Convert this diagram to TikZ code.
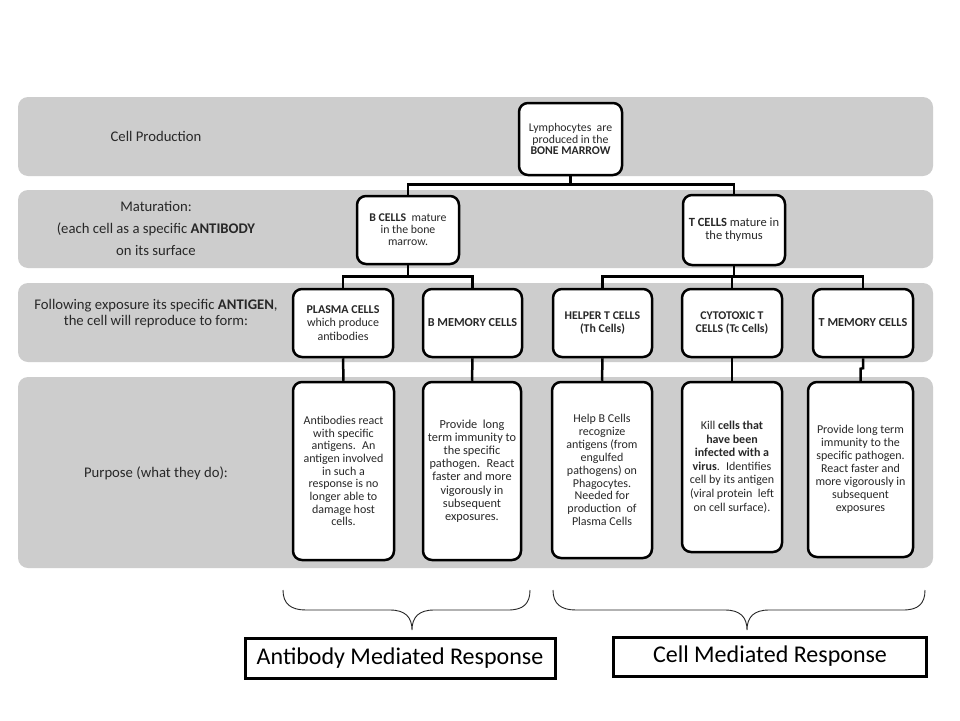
\documentclass[tikz,border=0pt]{standalone}
\usepackage{fontspec}
\setmainfont{Carlito}
\usetikzlibrary{calc}
\definecolor{bandgray}{RGB}{205,205,205}
\definecolor{labelgray}{RGB}{40,40,40}
\begin{document}
\begin{tikzpicture}[x=1pt,y=-1pt,
  band/.style={fill=bandgray, rounded corners=10pt},
  cellbox/.style={draw, line width=2.5pt, rounded corners=9pt, fill=white, align=center, inner sep=0pt, text=labelgray},
  conn/.style={line width=2.5pt},
  lbl/.style={align=center, text=labelgray, inner sep=0pt},
  resp/.style={draw, line width=3pt, fill=white, inner sep=0pt, font=\fontsize{24}{28}\selectfont, text=black},
  bracepath/.style={line width=0.9pt, draw=black!85}
]
\useasboundingbox (0,0) rectangle (960,720);
\fill[white] (0,0) rectangle (960,720);
% bands
\fill[band] (18,97) rectangle (933,176);
\fill[band] (18,190) rectangle (933,268);
\fill[band] (18,283) rectangle (933,362);
\fill[band] (18,377) rectangle (933,568);
% left labels
\node[lbl, font=\fontsize{14.7}{17}\selectfont] (l1) at (156,136) {Cell Production};
\node[lbl, font=\fontsize{14.7}{21.7}\selectfont] (l2) at (156,228.5) {Maturation:\\(each cell as a specific \textbf{ANTIBODY}\\on its surface};
\node[lbl, font=\fontsize{14.7}{16.7}\selectfont] (l3) at (156,313.5) {Following exposure its specific \textbf{ANTIGEN},\\the cell will reproduce to form:};
\node[lbl, font=\fontsize{14.7}{17}\selectfont] (l4) at (156,473) {Purpose (what they do):};
% level 1
\node[cellbox, minimum width=103pt, minimum height=72pt, font=\fontsize{11.8}{11.8}\selectfont] (top) at (570.5,139) {Lymphocytes \ are\\produced in the\\\textbf{BONE MARROW}};
% level 2
\node[cellbox, minimum width=102pt, minimum height=68pt, font=\fontsize{11.8}{11.9}\selectfont] (bcell) at (408,230) {\textbf{B CELLS} \ mature\\in the bone\\marrow.};
\node[cellbox, minimum width=102pt, minimum height=70pt, font=\fontsize{12.5}{13.3}\selectfont] (tcell) at (734,230) {\textbf{T CELLS} mature in\\the thymus};
% level 3
\node[cellbox, minimum width=100pt, minimum height=68pt, font=\fontsize{12}{13.7}\selectfont] (plasma) at (343,323) {\textbf{PLASMA CELLS}\\which produce\\antibodies};
\node[cellbox, minimum width=99pt, minimum height=68pt, font=\fontsize{12.2}{13.7}\selectfont] (bmem) at (472.5,323) {\textbf{B MEMORY CELLS}};
\node[cellbox, minimum width=99pt, minimum height=68pt, font=\fontsize{11.8}{13.3}\selectfont] (helper) at (602.5,323) {\textbf{HELPER T CELLS}\\\textbf{(Th Cells)}};
\node[cellbox, minimum width=100pt, minimum height=68pt, font=\fontsize{11.8}{13.3}\selectfont] (cyto) at (732,323) {\textbf{CYTOTOXIC T}\\\textbf{CELLS (Tc Cells)}};
\node[cellbox, minimum width=100pt, minimum height=68pt, font=\fontsize{12.2}{13.3}\selectfont] (tmem) at (863,323) {\textbf{T MEMORY CELLS}};
% level 4
\node[cellbox, minimum width=101pt, minimum height=178pt, font=\fontsize{12}{12.7}\selectfont] (apur) at (343.5,471) {Antibodies react\\with specific\\antigens. \ An\\antigen involved\\in such a\\response is no\\longer able to\\damage host\\cells.};
\node[cellbox, minimum width=98pt, minimum height=178pt, font=\fontsize{12.3}{13.2}\selectfont] (bmpur) at (472,471) {Provide \ long\\term immunity to\\the specific\\pathogen. \ React\\faster and more\\vigorously in\\subsequent\\exposures.};
\node[cellbox, minimum width=100pt, minimum height=176pt, font=\fontsize{12}{12.9}\selectfont] (hpur) at (602,470) {Help B Cells\\recognize\\antigens (from\\engulfed\\pathogens) on\\Phagocytes.\\Needed for\\production \ of\\Plasma Cells};
\node[cellbox, minimum width=100pt, minimum height=170pt, font=\fontsize{12}{13.6}\selectfont] (kpur) at (732,467) {Kill \textbf{cells that}\\\textbf{have been}\\\textbf{infected with a}\\\textbf{virus}. \ Identifies\\cell by its antigen\\(viral protein \ left\\on cell surface).};
\node[cellbox, minimum width=105pt, minimum height=175pt, font=\fontsize{12}{13}\selectfont] (tpur) at (860.5,469.5) {Provide long term\\immunity to the\\specific pathogen.\\React faster and\\more vigorously in\\subsequent\\exposures};
% connectors
\draw[conn] (top.south) -- ++(0,8) -| (bcell.north);
\draw[conn] (top.south) -- ++(0,8) -| (tcell.north);
\draw[conn] (bcell.south) -- ++(0,11) -| (plasma.north);
\draw[conn] (bcell.south) -- ++(0,11) -| (bmem.north);
\draw[conn] (tcell.south) -- ++(0,10) -| (helper.north);
\draw[conn] (tcell.south) -- ++(0,10) -| (cyto.north);
\draw[conn] (tcell.south) -- ++(0,10) -| (tmem.north);
\draw[conn] (plasma.south) -- (apur.north);
\draw[conn] (bmem.south) -- (bmpur.north);
\draw[conn] (helper.south) -- (hpur.north);
\draw[conn] (cyto.south) -- (kpur.north);
\draw[conn] (tmem.south) -- ++(0,10) -- ($(tpur.north)+(0,-12)$) -- (tpur.north);
% response boxes
\node[resp, minimum width=310pt, minimum height=40pt] (abr) at (400,658) {Antibody Mediated Response};
\node[resp, minimum width=313pt, minimum height=39pt] (cmr) at (770,656.5) {Cell Mediated Response};
% braces
\coordinate (lb1) at (283,590);
\coordinate (lbt) at (412,630);
\coordinate (lb2) at (530,590);
\draw[bracepath] (lb1) .. controls (283,604) and (291,610) .. (306,610) -- (390,610)
  .. controls (405,610) and (412,617) .. (lbt) .. controls (412,617) and (419,610) .. (434,610)
  -- (508,610) .. controls (523,610) and (530,604) .. (lb2);
\coordinate (rb1) at (553,590);
\coordinate (rbt) at (747,630);
\coordinate (rb2) at (925,590);
\draw[bracepath] (rb1) .. controls (553,604) and (561,610) .. (576,610) -- (725,610)
  .. controls (740,610) and (747,617) .. (rbt) .. controls (747,617) and (754,610) .. (769,610)
  -- (903,610) .. controls (918,610) and (925,604) .. (rb2);
\end{tikzpicture}
\end{document}
